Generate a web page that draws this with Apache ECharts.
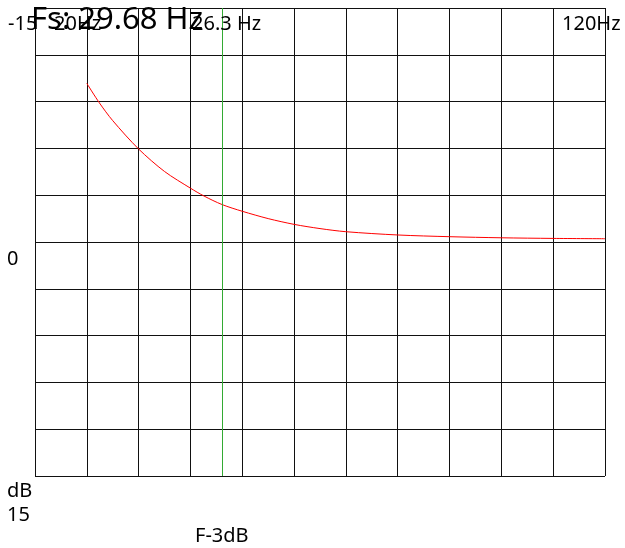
<!DOCTYPE html>
<html>
<head>
<meta charset="utf-8">
<script src="https://cdn.jsdelivr.net/npm/echarts@6/dist/echarts.min.js"></script>
<style>
html,body{margin:0;padding:0;background:#fff;}
#chart{width:625px;height:548px;}
</style>
</head>
<body>
<div id="chart"></div>
<script>
// Frequency (Hz) and response (dB)
const freqHz = [20, 22.4, 25, 30, 35, 40, 42.6, 46.1, 50, 55, 60, 65, 70, 80, 90, 100, 110, 120];
const responseDb = [-10.17, -8.93, -7.78, -5.96, -4.52, -3.45, -2.95, -2.40, -1.97, -1.50, -1.13, -0.86, -0.66, -0.45, -0.34, -0.27, -0.23, -0.21];
const f3dbLinePos = [46.1];
const titleText = 'Fs: 29.68 Hz';
const f3dbText = '26.3 Hz';
const xStartText = '20Hz';
const xEndText = '120Hz';
const yTickText = ['-15', '0', '15'];

const chart = echarts.init(document.getElementById('chart'), null, {renderer: 'canvas'});
const FONT = 'Noto Sans';
const txt = (x, y, text, size) => ({
  type: 'text', left: x, top: y, z: 10,
  style: {text: text, font: size + 'px "' + FONT + '"', fill: '#000'}
});

chart.setOption({
  animation: false,
  backgroundColor: '#fff',
  grid: {left: 35, top: 8, right: 20, bottom: 72, containLabel: false},
  xAxis: {
    type: 'value', min: 10, max: 120, interval: 10,
    axisLine: {show: false}, axisTick: {show: false}, axisLabel: {show: false},
    splitLine: {show: true, lineStyle: {color: '#111', width: 1}}
  },
  yAxis: {
    type: 'value', min: -15, max: 15, interval: 3, inverse: true,
    axisLine: {show: false}, axisTick: {show: false}, axisLabel: {show: false},
    splitLine: {show: true, lineStyle: {color: '#111', width: 1}}
  },
  series: [{
    type: 'line',
    data: freqHz.map((f, i) => [f, responseDb[i]]),
    smooth: 0.3,
    showSymbol: false,
    lineStyle: {color: '#ff0000', width: 1},
    markLine: {
      silent: true, symbol: 'none', label: {show: false},
      lineStyle: {color: '#33aa33', width: 1, type: 'solid'},
      data: f3dbLinePos.map(v => ({xAxis: v}))
    }
  }],
  graphic: [
    txt(8, 14, yTickText[0], 20),
    txt(54, 14, xStartText, 20),
    txt(31, 5, titleText, 31),
    txt(192, 14, f3dbText, 20),
    txt(562, 14, xEndText, 20),
    txt(7, 249, yTickText[1], 20),
    txt(7, 481, 'dB', 20),
    txt(7, 505, yTickText[2], 20),
    txt(195, 526, 'F-3dB', 20)
  ]
});
</script>
</body>
</html>
